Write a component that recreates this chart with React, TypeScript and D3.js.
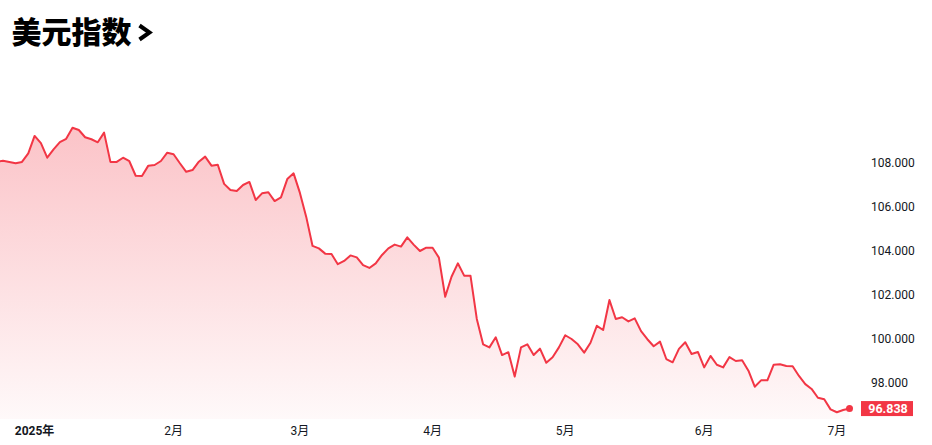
import React from "react";
import * as d3 from "d3";

// DXY daily closes, trading days from 2024-12-23 to 2025-07-03
const values: number[] = [
  108.05, 108.10, 108.05, 107.99, 108.05, 108.44, 109.23, 108.90, 108.24, 108.62,
  108.95, 109.10, 109.60, 109.50, 109.17, 109.08, 108.94, 109.38, 108.05, 108.05,
  108.24, 108.08, 107.42, 107.41, 107.88, 107.91, 108.09, 108.47, 108.40, 107.99,
  107.60, 107.68, 108.06, 108.29, 107.88, 107.92, 107.05, 106.77, 106.73, 107.00,
  107.14, 106.32, 106.62, 106.67, 106.27, 106.44, 107.27, 107.53, 106.64, 105.55,
  104.23, 104.12, 103.88, 103.86, 103.40, 103.55, 103.80, 103.71, 103.36, 103.23,
  103.44, 103.82, 104.12, 104.29, 104.20, 104.62, 104.29, 104.00, 104.15, 104.15,
  103.70, 101.92, 102.83, 103.44, 102.88, 102.88, 100.91, 99.76, 99.62, 100.08,
  99.27, 99.40, 98.29, 99.62, 99.76, 99.27, 99.56, 98.92, 99.17, 99.62,
  100.17, 100.00, 99.76, 99.38, 99.83, 100.60, 100.41, 101.77, 100.91, 100.99,
  100.80, 100.94, 100.36, 99.99, 99.67, 99.88, 99.09, 98.94, 99.55, 99.85,
  99.32, 99.41, 98.71, 99.23, 98.83, 98.71, 99.18, 99.00, 99.03, 98.56,
  97.83, 98.12, 98.12, 98.83, 98.85, 98.77, 98.76, 98.32, 97.95, 97.73,
  97.33, 97.26, 96.80, 96.67, 96.77, 96.838,
];

// first trading day of each month (index into values) and its label
const monthTickIndex: number[] = [6, 28, 48, 69, 90, 112, 133];
const monthTickLabels: string[] = ["2025年", "2月", "3月", "4月", "5月", "6月", "7月"];
const yTickValues: number[] = [98, 100, 102, 104, 106, 108];
const title = "美元指数";

const RED = "#f23645";
const FONT = "Roboto, 'Noto Sans CJK SC', sans-serif";

export default function App() {
  const W = 932;
  const H = 445;
  const x = d3.scaleLinear().domain([0, values.length - 1]).range([-3.3, 849.5]);
  const y = d3.scaleLinear().domain([108, 98]).range([163, 383]);
  const baseY = 419;

  const linePath = d3
    .line<number>()
    .x((_, i) => x(i))
    .y((d) => y(d))(values) as string;
  const areaPath = d3
    .area<number>()
    .x((_, i) => x(i))
    .y0(baseY)
    .y1((d) => y(d))(values) as string;

  const last = values[values.length - 1];
  const lx = x(values.length - 1);
  const ly = y(last);

  return (
    <svg
      width={W}
      height={H}
      style={{ position: "absolute", left: 0, top: 0, background: "#fff" }}
      fontFamily={FONT}
    >
      <defs>
        <linearGradient id="fillGrad" gradientUnits="userSpaceOnUse" x1="0" y1="125" x2="0" y2={baseY}>
          <stop offset="0" stopColor={RED} stopOpacity={0.3} />
          <stop offset="1" stopColor={RED} stopOpacity={0.03} />
        </linearGradient>
      </defs>

      {/* title */}
      <text x={11.5} y={43} fontSize={30} fontWeight={900} fill="#000" fontFamily="'Noto Sans CJK SC', sans-serif">
        {title}
      </text>
      <path d="M139.5,25.5 L149.5,32.5 L139.5,39.5" fill="none" stroke="#000" strokeWidth={4} strokeLinejoin="miter" />

      <path d={areaPath} fill="url(#fillGrad)" />
      <path d={linePath} fill="none" stroke={RED} strokeWidth={2} strokeLinejoin="round" />
      <circle cx={lx} cy={ly} r={3.5} fill={RED} />

      {/* y axis labels */}
      {yTickValues.map((v) => (
        <text key={v} x={871} y={y(v)} dy="0.35em" fontSize={12} fill="#131722">
          {d3.format(".3f")(v)}
        </text>
      ))}

      {/* last value badge */}
      <rect x={861} y={ly - 7.5} width={52} height={15} fill={RED} />
      <text x={888} y={ly} dy="0.36em" textAnchor="middle" fontSize={12.5} fontWeight={700} fill="#fff">
        {d3.format(".3f")(last)}
      </text>

      {/* x axis labels */}
      {monthTickIndex.map((idx, i) => (
        <text
          key={idx}
          x={x(idx)}
          y={431}
          dy="0.35em"
          textAnchor="middle"
          fontSize={12}
          fontWeight={i === 0 ? 700 : 400}
          fill="#131722"
        >
          {monthTickLabels[i]}
        </text>
      ))}
    </svg>
  );
}
